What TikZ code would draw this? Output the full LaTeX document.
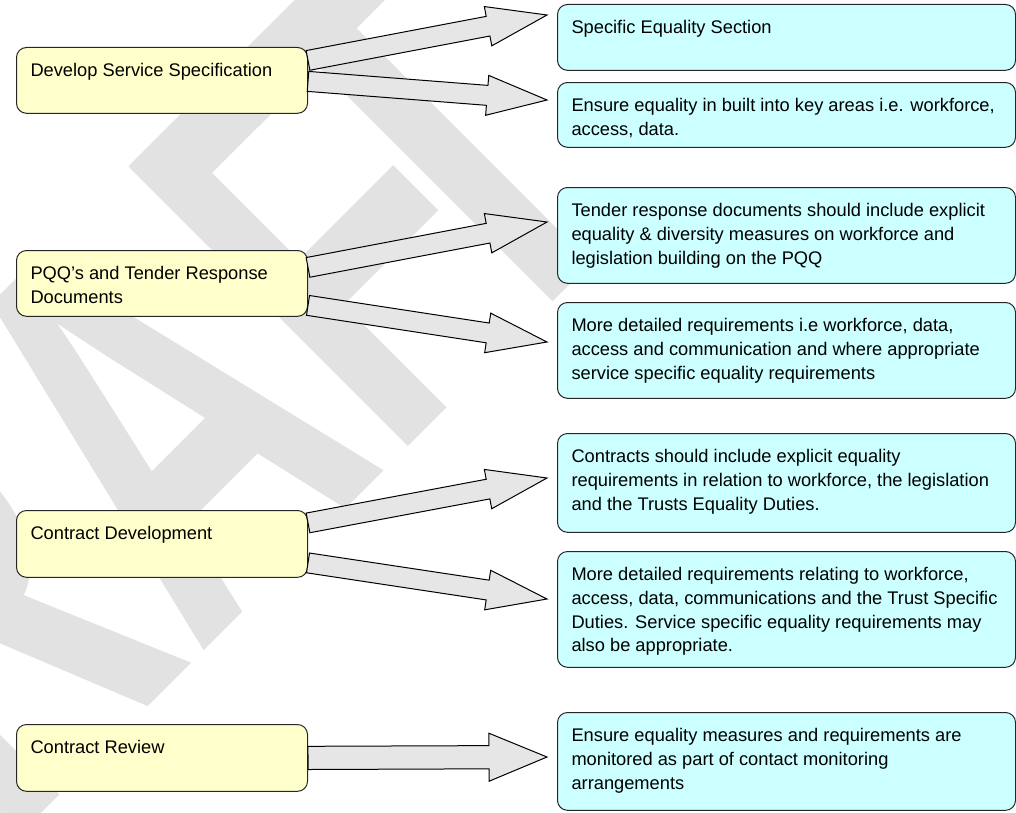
\documentclass[tikz,border=0pt]{standalone}
\usepackage{fontspec}
\setmainfont{Liberation Sans}
\usetikzlibrary{calc}

\definecolor{lyellow}{HTML}{FFFFCC}
\definecolor{lcyan}{HTML}{CCFFFF}
\definecolor{arrowgrey}{HTML}{E6E6E6}
\definecolor{wmgrey}{HTML}{E2E2E2}

\begin{document}
\begin{tikzpicture}[x=0.25mm,y=-0.25mm,
	box/.style={draw=black!85,line width=0.25mm,rounded corners=2.5mm,
		anchor=north west,inner xsep=3.5mm,inner ysep=3.1mm},
	left box/.style={box,fill=lyellow,
		execute at begin node={\begin{minipage}[t][#1][t]{65.75mm}%
			\fontsize{13pt}{16.9pt}\selectfont\raggedright\strut},
		execute at end node={\end{minipage}}},
	right box/.style={box,fill=lcyan,
		execute at begin node={\begin{minipage}[t][#1][t]{107.5mm}%
			\fontsize{13pt}{16.9pt}\selectfont\raggedright\strut},
		execute at end node={\end{minipage}}},
	shaft half/.store in=\shafth,head half/.store in=\headh,head len/.store in=\headl,
	shaft half=2.5mm,head half=5mm,head len=15mm,
	fat arrow/.style={draw=black,fill=arrowgrey,line width=0.25mm,
		to path={let \p1=(\tikztostart),\p2=(\tikztotarget),
			\n1={atan2(\y2-\y1,\x2-\x1)} in
			($(\p1)+({\n1+90}:\shafth)$)
			-- ($(\p2)+({\n1+180}:\headl)+({\n1+90}:\shafth)$)
			-- ($(\p2)+({\n1+180}:\headl)+({\n1+90}:\headh)$)
			-- (\p2)
			-- ($(\p2)+({\n1+180}:\headl)+({\n1-90}:\headh)$)
			-- ($(\p2)+({\n1+180}:\headl)+({\n1-90}:\shafth)$)
			-- ($(\p1)+({\n1-90}:\shafth)$) -- cycle}}]

	\useasboundingbox (0,0) rectangle (1016,812);

	% watermark
	\node[rotate=45,xscale=0.66,anchor=base,text=wmgrey,
		font=\bfseries\fontsize{409pt}{409pt}\selectfont]
		(draft) at (232,623) {DRAF\kern-0.24em T};

	\node[left box=10.25mm] (dev) at (16,47) {Develop Service Specification};
	\node[left box=10.25mm] (pqq) at (16,250) {PQQ's and Tender Response\\Documents};
	\node[left box=10.5mm] (cdev) at (16,510) {Contract Development};
	\node[left box=10.5mm] (crev) at (16,724) {Contract Review};

	\node[right box=10.25mm] (spec) at (557,4) {Specific Equality Section};
	\node[right box=10mm] (ensure) at (557,82)
		{Ensure equality in built into key areas i.e. workforce,\\access, data.};
	\node[right box=17.75mm] (tender) at (557,187)
		{Tender response documents should include explicit\\equality \& diversity measures on workforce and\\legislation building on the PQQ};
	\node[right box=17.75mm] (detail) at (557,302)
		{More detailed requirements i.e workforce, data,\\access and communication and where appropriate\\service specific equality requirements};
	\node[right box=18.5mm] (contracts) at (557,433)
		{Contracts should include explicit equality\\requirements in relation to workforce, the legislation\\and the Trusts Equality Duties.};
	\node[right box=22.75mm] (duties) at (557,551)
		{More detailed requirements relating to workforce,\\access, data, communications and the Trust Specific\\Duties. Service specific equality requirements may\\also be appropriate.};
	\node[right box=18.25mm] (monitor) at (557,712)
		{Ensure equality measures and requirements are\\monitored as part of contact monitoring\\arrangements};

	\draw[fat arrow] ($(dev.east)+(0,-20)$) to ($(spec.north west)+(-10,11)$);
	\draw[fat arrow] ($(dev.east)+(0,1)$) to ($(ensure.north west)+(-10,18)$);
	\draw[fat arrow] ($(pqq.east)+(0,-16)$) to ($(tender.north west)+(-10,35)$);
	\draw[fat arrow] ($(pqq.east)+(0,22)$) to ($(detail.north west)+(-10,40)$);
	\draw[fat arrow] ($(cdev.east)+(0,-21)$) to ($(contracts.north west)+(-10,45)$);
	\draw[fat arrow] ($(cdev.east)+(0,19)$) to ($(duties.north west)+(-10,48)$);
	\draw[fat arrow,shaft half=2.9mm,head half=6mm,head len=14.5mm]
		(crev.east) to ($(monitor.north west)+(-10,45)$);
\end{tikzpicture}
\end{document}
